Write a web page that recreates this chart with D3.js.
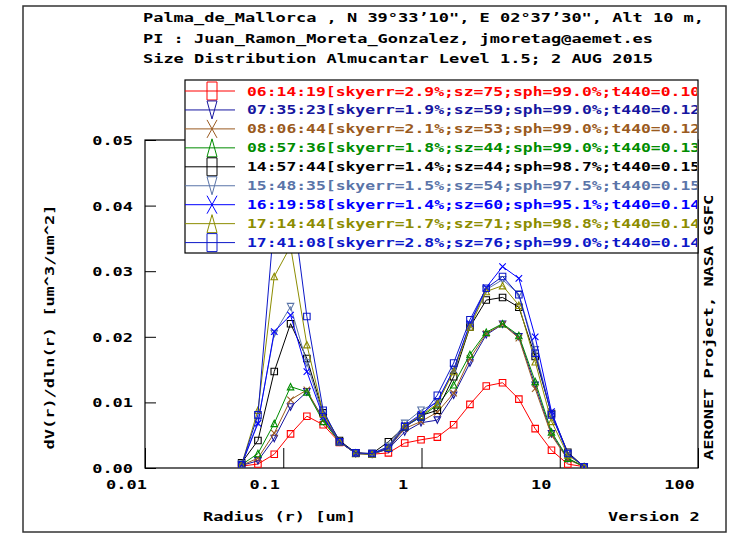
<!DOCTYPE html>
<html>
<head>
<meta charset="utf-8">
<script src="https://cdn.jsdelivr.net/npm/d3@7"></script>
<style>
  body { margin: 0; background: #fff; }
  text { font-family: "DejaVu Sans Mono", monospace; font-weight: bold; font-size: 13px; }
</style>
</head>
<body>
<div id="chart"></div>
<script>
// AERONET size bins (radius, um)
const radius = [0.05, 0.065604, 0.086077, 0.112939, 0.148184, 0.194429, 0.255105, 0.334716,
  0.439173, 0.576227, 0.756052, 0.991996, 1.301571, 1.707757, 2.240702, 2.939966,
  3.857452, 5.06126, 6.640745, 8.713145, 11.432287, 15.0];

const xTicks = [0.01, 0.1, 1, 10, 100];
const yTicks = [0, 0.01, 0.02, 0.03, 0.04, 0.05];

// legend info
const times  = ["06:14:19", "07:35:23", "08:06:44", "08:57:36", "14:57:44", "15:48:35", "16:19:58", "17:14:44", "17:41:08"];
const skyerr = ["2.9", "1.9", "2.1", "1.8", "1.4", "1.5", "1.4", "1.7", "2.8"];
const sz     = ["75", "59", "53", "44", "44", "54", "60", "71", "76"];
const sph    = ["99.0", "99.0", "99.0", "99.0", "98.7", "97.5", "95.1", "98.8", "99.0"];
const t440   = ["0.10", "0.12", "0.12", "0.13", "0.15", "0.15", "0.14", "0.14", "0.14"];
const colors = ["#ff0000", "#1616a0", "#9a5a20", "#008c00", "#000000", "#5a74a8", "#0000ff", "#8c8c00", "#0c18c8"];
const symbols = ["square", "down", "x", "up", "square", "down", "x", "up", "square"];

// dV/dlnr values
const v061419 = [0.0003,0.0006,0.0021,0.0052,0.0079,0.0066,0.0039,0.0023,0.0021,0.0023,0.0038,0.0043,0.0047,0.0066,0.0097,0.0125,0.0130,0.0105,0.0060,0.0027,0.0006,0.0002];
const v073523 = [0.0004,0.0011,0.0045,0.0093,0.0116,0.0076,0.0040,0.0022,0.0021,0.0029,0.0055,0.0069,0.0073,0.0111,0.0160,0.0203,0.0219,0.0200,0.0126,0.0052,0.0014,0.0002];
const v080644 = [0.0004,0.0015,0.0053,0.0104,0.0119,0.0073,0.0040,0.0022,0.0021,0.0030,0.0060,0.0071,0.0085,0.0114,0.0167,0.0205,0.0219,0.0198,0.0121,0.0050,0.0013,0.0002];
const v085736 = [0.0005,0.0022,0.0068,0.0124,0.0116,0.0071,0.0040,0.0023,0.0021,0.0031,0.0063,0.0078,0.0096,0.0127,0.0173,0.0207,0.0220,0.0202,0.0132,0.0055,0.0015,0.0002];
const v145744 = [0.0008,0.0042,0.0147,0.0220,0.0167,0.0084,0.0042,0.0023,0.0022,0.0040,0.0063,0.0080,0.0088,0.0139,0.0215,0.0256,0.0260,0.0245,0.0170,0.0083,0.0024,0.0002];
const v154835 = [0.0006,0.0070,0.0205,0.0246,0.0160,0.0080,0.0040,0.0022,0.0022,0.0033,0.0068,0.0088,0.0100,0.0150,0.0218,0.0272,0.0287,0.0265,0.0180,0.0082,0.0022,0.0002];
const v161958 = [0.0005,0.0068,0.0208,0.0233,0.0147,0.0078,0.0040,0.0022,0.0022,0.0032,0.0065,0.0082,0.0102,0.0150,0.0220,0.0275,0.0307,0.0289,0.0200,0.0086,0.0022,0.0002];
const v171444 = [0.0005,0.0088,0.0292,0.0338,0.0188,0.0083,0.0040,0.0022,0.0021,0.0031,0.0064,0.0080,0.0098,0.0147,0.0215,0.0269,0.0278,0.0248,0.0162,0.0071,0.0020,0.0002];
const v174108 = [0.0005,0.0081,0.0378,0.0423,0.0231,0.0088,0.0040,0.0023,0.0022,0.0030,0.0063,0.0078,0.0111,0.0160,0.0226,0.0274,0.0292,0.0264,0.0175,0.0081,0.0022,0.0002];
const seriesValues = [v061419, v073523, v080644, v085736, v145744, v154835, v161958, v171444, v174108];

const titleLines = [
  "Palma_de_Mallorca , N 39\u00b033\u201910\", E 02\u00b037\u201930\", Alt 10 m,",
  "PI : Juan_Ramon_Moreta_Gonzalez, jmoretag@aemet.es",
  "Size Distribution Almucantar Level 1.5; 2 AUG 2015"
];

const width = 731, height = 534;
const pitch = 10.2;     // char width of the wide bitmap-like font
const legPitch = 9.85;  // legend text is a bit tighter

function mono(sel, str, p) {
  sel.text(str)
     .attr("textLength", str.length * (p || pitch))
     .attr("lengthAdjust", "spacingAndGlyphs");
  return sel;
}

function symbolPath(type, w, h) {
  const a = w / 2, b = h / 2;
  if (type === "square") return `M${-a},${-b}H${a}V${b}H${-a}Z`;
  if (type === "up") return `M0,${-b}L${a},${b}L${-a},${b}Z`;
  if (type === "down") return `M0,${b}L${a},${-b}L${-a},${-b}Z`;
  return `M${-a},${-b}L${a},${b}M${a},${-b}L${-a},${b}`;
}

const svg = d3.select("#chart")
              .append("svg")
              .attr("width", width)
              .attr("height", height);

// outer border
svg.append("rect")
   .attr("x", 23).attr("y", 6)
   .attr("width", 703).attr("height", 526)
   .attr("fill", "none").attr("stroke", "#333").attr("stroke-width", 1.5);

const plot = {left: 145, right: 698, top: 140, bottom: 468};
const x = d3.scaleLog().domain([0.01, 100]).range([plot.left, plot.right]);
const y = d3.scaleLinear().domain([0, 0.05]).range([plot.bottom, plot.top]);

// title
svg.selectAll("text.title")
   .data(titleLines)
   .enter()
   .append("text")
   .attr("class", "title")
   .attr("x", 143)
   .attr("y", (d, i) => 22 + i * 20.5)
   .each(function(d) { mono(d3.select(this), d); });

// axes
const yAxis = d3.axisLeft(y)
                .tickValues(yTicks)
                .tickSize(-11)
                .tickPadding(12)
                .tickFormat(d3.format(".2f"));
const drawY = svg.append("g")
                 .attr("transform", `translate(${plot.left},0)`)
                 .call(yAxis);
drawY.select(".domain").remove();
drawY.selectAll("line").attr("stroke", "#000");
drawY.selectAll("text")
     .attr("font-size", 13)
     .attr("font-family", null)
     .attr("fill", "#000")
     .attr("dy", "0.35em")
     .each(function(d) { mono(d3.select(this), d3.format(".2f")(d)); });

const xAxis = d3.axisBottom(x)
                .tickValues(xTicks)
                .tickSize(-20)
                .tickPadding(12)
                .tickFormat(d => String(d));
const drawX = svg.append("g")
                 .attr("transform", `translate(0,${plot.bottom})`)
                 .call(xAxis);
drawX.select(".domain").remove();
drawX.selectAll("line").attr("stroke", "#000");
drawX.selectAll("text")
     .attr("font-size", 13)
     .attr("font-family", null)
     .attr("fill", "#000")
     .attr("dx", -19)
     .each(function(d) { mono(d3.select(this), String(d)); });

// frame
svg.append("rect")
   .attr("x", plot.left).attr("y", plot.top)
   .attr("width", plot.right - plot.left).attr("height", plot.bottom - plot.top)
   .attr("fill", "none").attr("stroke", "#000").attr("stroke-width", 1.2);

// axis titles
mono(svg.append("text")
        .attr("text-anchor", "middle")
        .attr("transform", "translate(54,327) rotate(-90)"),
     "dV(r)/dln(r) [um^3/um^2]");
mono(svg.append("text")
        .attr("x", 203)
        .attr("y", 521),
     "Radius (r) [um]");
mono(svg.append("text")
        .attr("x", 608)
        .attr("y", 521),
     "Version 2");
mono(svg.append("text")
        .attr("transform", "translate(713,460) rotate(-90)"),
     "AERONET Project, NASA GSFC");

// data
svg.append("clipPath").attr("id", "plotclip")
   .append("rect")
   .attr("x", plot.left).attr("y", plot.top)
   .attr("width", plot.right - plot.left).attr("height", plot.bottom - plot.top);

const series = seriesValues.map((vals, i) => ({
  time: times[i], color: colors[i], symbol: symbols[i],
  points: vals.map((v, j) => ({r: radius[j], v: v}))
}));

const line = d3.line().x(d => x(d.r)).y(d => y(d.v));
const dataG = svg.append("g").attr("clip-path", "url(#plotclip)");

series.forEach(s => {
  const g = dataG.append("g");
  g.append("path")
   .attr("d", line(s.points))
   .attr("fill", "none")
   .attr("stroke", s.color)
   .attr("stroke-width", 1);
  g.selectAll("path.mk")
   .data(s.points)
   .enter()
   .append("path")
   .attr("class", "mk")
   .attr("transform", d => `translate(${x(d.r)},${y(d.v)})`)
   .attr("d", symbolPath(s.symbol, 6.5, 6.5))
   .attr("fill", "none")
   .attr("stroke", s.color)
   .attr("stroke-width", 1.1);
});

// legend
const legend = {left: 185, top: 80, right: 698, bottom: 253};
svg.append("clipPath").attr("id", "legclip")
   .append("rect")
   .attr("x", legend.left).attr("y", legend.top)
   .attr("width", legend.right - legend.left - 1).attr("height", legend.bottom - legend.top);

const legG = svg.append("g");
legG.append("rect")
    .attr("x", legend.left).attr("y", legend.top)
    .attr("width", legend.right - legend.left).attr("height", legend.bottom - legend.top)
    .attr("fill", "#fff").attr("stroke", "#000").attr("stroke-width", 1.2);

const rows = legG.append("g")
                 .attr("clip-path", "url(#legclip)")
                 .selectAll("g.row")
                 .data(series)
                 .enter()
                 .append("g")
                 .attr("class", "row")
                 .attr("transform", (d, i) => `translate(0,${91 + i * 18.95})`);
rows.append("line")
    .attr("x1", legend.left).attr("x2", 235)
    .attr("stroke", d => d.color);
rows.append("path")
    .attr("transform", "translate(212,0)")
    .attr("d", d => symbolPath(d.symbol, 10, 18))
    .attr("fill", "none")
    .attr("stroke", d => d.color);
rows.append("text")
    .attr("x", 247)
    .attr("y", 4.5)
    .attr("fill", d => d.color)
    .each(function(d, i) {
      mono(d3.select(this),
           `${times[i]}[skyerr=${skyerr[i]}%;sz=${sz[i]};sph=${sph[i]}%;t440=${t440[i]}]`,
           legPitch);
    });
</script>
</body>
</html>
